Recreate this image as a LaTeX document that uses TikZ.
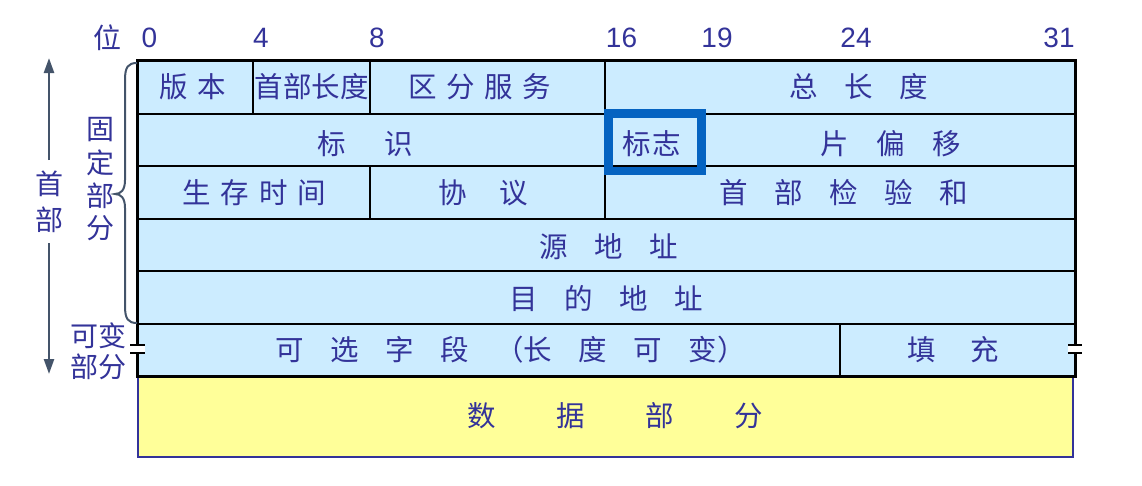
\documentclass[tikz,border=0pt]{standalone}
\usepackage{fontspec}
\setmainfont{Liberation Sans}
\newfontfamily\cjk{Noto Sans CJK SC}
\usetikzlibrary{arrows.meta}
\definecolor{txt}{RGB}{51,51,153}
\definecolor{cellbg}{RGB}{204,236,255}
\definecolor{databg}{RGB}{255,255,153}
\definecolor{flagblue}{RGB}{5,99,193}
\definecolor{slate}{RGB}{68,84,106}
\newcommand\gp[1]{\hspace{#1pt}}
% #1 = horizontal shift of text centre, #2 = raise (negative = down), #3 = text
\newcommand\tx[3]{\makebox[0pt]{\hspace{#1pt}\hspace{#1pt}\raisebox{#2pt}{#3}}}
\begin{document}
\begin{tikzpicture}[x=1pt,y=-1pt,
  cell/.style={draw=black, line width=2pt, fill=cellbg, inner sep=0pt, outer sep=0pt, text=txt,
    text height=22pt, text depth=2pt, font=\cjk\fontsize{28.5}{32}\selectfont},
  datacell/.style={cell, draw=txt, fill=databg},
  bitlabel/.style={text=txt, inner sep=0pt, font=\fontsize{28}{32}\selectfont},
  sidelabel/.style={text=txt, inner sep=0pt, font=\cjk\fontsize{28}{32}\selectfont},
  breakmark/.style={line width=2.5pt, black},
  sidearrow/.style={slate, line width=2.5pt, -{Triangle[length=15pt,width=10pt]}}
]
\useasboundingbox (0,0) rectangle (1142,485);
% row 1
\node[cell, minimum width=116pt, minimum height=53pt] (ver) at (195,87) {\tx{-2.5}{-0.5}{版\gp{9.5}本}};
\node[cell, minimum width=117pt, minimum height=53pt] (hlen) at (311.5,87) {\tx{0}{-0.5}{首部长度}};
\node[cell, minimum width=235pt, minimum height=53pt] (ds) at (487.5,87) {\tx{-7.5}{-0.5}{区\gp{9.5}分\gp{9.5}服\gp{9.5}务}};
\node[cell, minimum width=470pt, minimum height=53pt] (tlen) at (840,87) {\tx{18.5}{-0.5}{总\gp{26.5}长\gp{26.5}度}};
% row 2
\node[cell, minimum width=468pt, minimum height=52.5pt] (ident) at (371,139.75) {\tx{-5.5}{-5}{标\gp{38.5}识}};
\node[cell, minimum width=96pt, minimum height=52.5pt] (flag) at (653,139.75) {\tx{-1}{-5}{标\gp{1.5}志}};
\node[cell, minimum width=374pt, minimum height=52.5pt] (frag) at (888,139.75) {\tx{2.5}{-5}{片\gp{27.5}偏\gp{27.5}移}};
% row 3
\node[cell, minimum width=233pt, minimum height=52.5pt] (ttl) at (253.5,192.25) {\tx{1}{-1}{生\gp{10}存\gp{10}时\gp{10}间}};
\node[cell, minimum width=235pt, minimum height=52.5pt] (proto) at (487.5,192.25) {\tx{-4.5}{-1}{协\gp{32.5}议}};
\node[cell, minimum width=470pt, minimum height=52.5pt] (cksum) at (840,192.25) {\tx{4}{-1}{首\gp{26.5}部\gp{26.5}检\gp{26.5}验\gp{26.5}和}};
% row 4, 5
\node[cell, minimum width=938pt, minimum height=52.5pt] (src) at (606,244.75) {\tx{2.5}{-3}{源\gp{26.5}地\gp{26.5}址}};
\node[cell, minimum width=938pt, minimum height=52.5pt] (dst) at (606,297.25) {\tx{0}{-2}{目\gp{26.5}的\gp{26.5}地\gp{26.5}址}};
% row 6
\node[cell, minimum width=703pt, minimum height=52.5pt] (opt) at (488.5,349.75) {\tx{22}{-1}{可\gp{26.5}选\gp{26.5}字\gp{26.5}段\gp{26.5}（长\gp{26.5}度\gp{26.5}可\gp{26.5}变）}};
\node[cell, minimum width=235pt, minimum height=52.5pt] (pad) at (957.5,349.75) {\tx{-4.5}{-1}{填\gp{35}充}};
% data
\node[datacell, minimum width=935pt, minimum height=80pt] (data) at (605.5,417) {\tx{9.5}{1}{数\gp{60.5}据\gp{60.5}部\gp{60.5}分}};
% outer border
\draw[line width=3pt] (ver.north west) rectangle (pad.south east);
% flag highlight
\node[draw=flagblue, line width=8.5pt, minimum width=93pt, minimum height=57.5pt, inner sep=0pt] (flagbox) at (655,142.25) {};
% break marks
\fill[white] (130,345.5) rectangle (145,352.5);
\fill[white] (1068,345.5) rectangle (1083,352.5);
\draw[breakmark] (130,345) -- (145,345) (130,353) -- (145,353);
\draw[breakmark] (1068,345) -- (1082,345) (1068,353) -- (1082,353);
% bit labels
\node[sidelabel] (wei) at (107,38) {位};
\node[bitlabel] (b0) at (149.5,38) {0};
\node[bitlabel] (b4) at (261,38) {4};
\node[bitlabel] (b8) at (377,38) {8};
\node[bitlabel] (b16) at (621.5,38) {16};
\node[bitlabel] (b19) at (717,38) {19};
\node[bitlabel] (b24) at (856,38) {24};
\node[bitlabel] (b31) at (1059,38) {31};
% header side labels
\node[sidelabel] (hd1) at (49,184) {首};
\node[sidelabel] (hd2) at (49,220) {部};
\coordinate (arrtop) at (49,58);
\coordinate (arrbot) at (49,374);
\draw[sidearrow] (49,160) -- (arrtop);
\draw[sidearrow] (49,243) -- (arrbot);
% fixed part
\node[sidelabel] (gu) at (100,130) {固};
\node[sidelabel] (ding) at (100,163) {定};
\node[sidelabel] (bu1) at (100,196) {部};
\node[sidelabel] (fen1) at (100,228) {分};
\draw[slate, line width=2pt] (137,63) .. controls (128,63) and (125,67) .. (125,80) -- (125,180)
  .. controls (125,190) and (121,194) .. (115,194) .. controls (121,194) and (125,198) .. (125,208)
  -- (125,306) .. controls (125,319) and (128,323) .. (137,323);
% variable part
\node[sidelabel] (kebian) at (98.5,336) {可变};
\node[sidelabel] (bufen) at (98.5,367) {部分};
\end{tikzpicture}
\end{document}
